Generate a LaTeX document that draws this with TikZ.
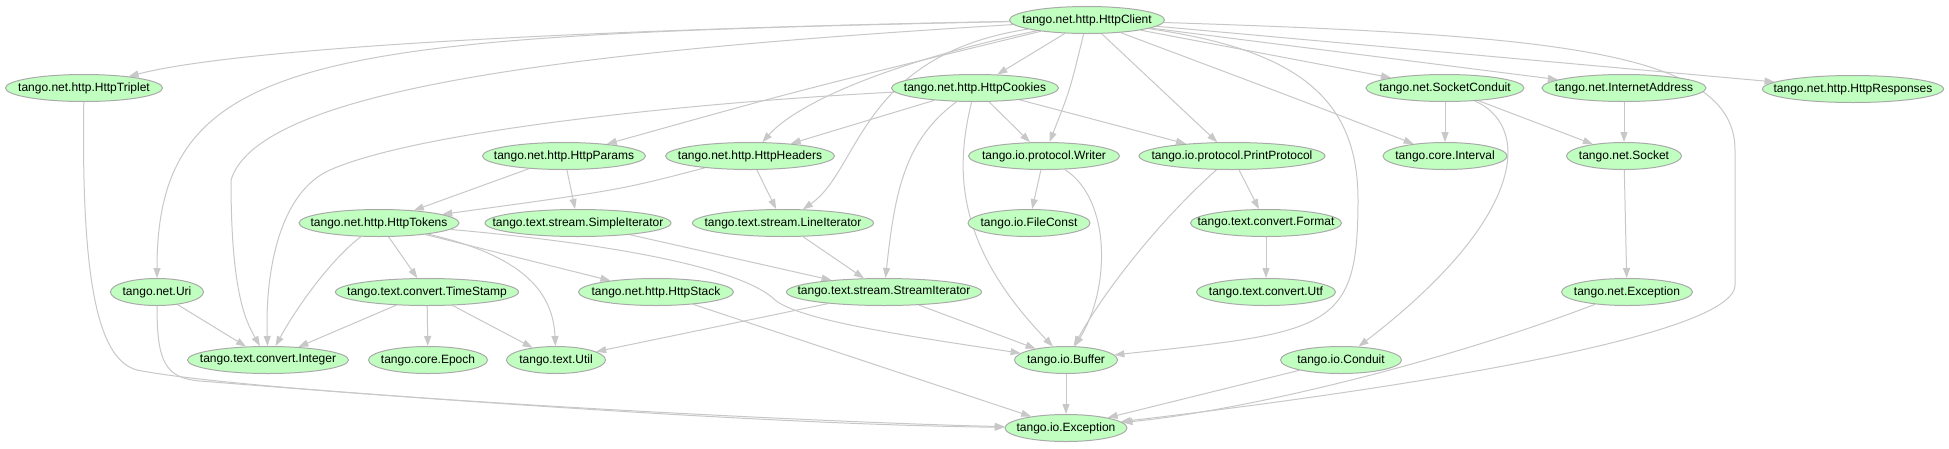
\documentclass[tikz,border=0pt]{standalone}
\usepackage{fontspec}
\setmainfont{Liberation Sans}
\usetikzlibrary{shapes.geometric,arrows.meta,backgrounds}
\definecolor{nodefill}{RGB}{192,255,192}
\definecolor{nodeline}{RGB}{170,170,170}
\definecolor{edgeline}{RGB}{200,200,200}
\tikzset{
 gnode/.style={ellipse,draw=nodeline,fill=nodefill,line width=1pt,inner sep=0pt,minimum height=27pt,font=\fontsize{12}{14}\selectfont},
 dep/.style={draw=edgeline,line width=1pt,-{Triangle[length=10pt,width=7pt]}}
}
\newcommand\gnd[5]{\node[gnode,minimum width=#4pt] (#1) at (#2,#3) {\makebox[0pt]{#5}};}
\begin{document}
\begin{tikzpicture}[x=1pt,y=-1pt]
\useasboundingbox (0,0) rectangle (1949,448);
\gnd{cli}{1087}{20}{155}{tango.net.http.HttpClient}
\gnd{trip}{84}{88}{157}{tango.net.http.HttpTriplet}
\gnd{cook}{975}{88}{167}{tango.net.http.HttpCookies}
\gnd{sockc}{1445}{88}{158}{tango.net.SocketConduit}
\gnd{inet}{1624}{88}{164}{tango.net.InternetAddress}
\gnd{resp}{1853}{89}{181}{tango.net.http.HttpResponses}
\gnd{params}{564}{156}{163}{tango.net.http.HttpParams}
\gnd{headers}{750}{156}{169}{tango.net.http.HttpHeaders}
\gnd{writer}{1044}{156}{151}{tango.io.protocol.Writer}
\gnd{pprot}{1232}{156}{186}{tango.io.protocol.PrintProtocol}
\gnd{interval}{1445}{156}{124}{tango.core.Interval}
\gnd{socket}{1624}{156}{115}{tango.net.Socket}
\gnd{tokens}{379}{223}{160}{tango.net.http.HttpTokens}
\gnd{simple}{578}{223}{186}{tango.text.stream.SimpleIterator}
\gnd{lineit}{783}{223}{181}{tango.text.stream.LineIterator}
\gnd{fconst}{1029}{223}{122}{tango.io.FileConst}
\gnd{format}{1266}{223}{151}{tango.text.convert.Format}
\gnd{uri}{157}{292}{93}{tango.net.Uri}
\gnd{tstamp}{427}{292}{183}{tango.text.convert.TimeStamp}
\gnd{stack}{656}{292}{155}{tango.net.http.HttpStack}
\gnd{stream}{884}{292}{195}{tango.text.stream.StreamIterator}
\gnd{utf}{1266}{292}{139}{tango.text.convert.Utf}
\gnd{netexc}{1627}{292}{131}{tango.net.Exception}
\gnd{integer}{268}{360}{161}{tango.text.convert.Integer}
\gnd{epoch}{428}{360}{119}{tango.core.Epoch}
\gnd{util}{556}{360}{99}{tango.text.Util}
\gnd{buffer}{1066}{360}{103}{tango.io.Buffer}
\gnd{conduit}{1341}{360}{121}{tango.io.Conduit}
\gnd{ioexc}{1066}{428}{122}{tango.io.Exception}
\begin{pgfonlayer}{background}
\fill[white] (0,0) rectangle (1949,448);
% HttpClient
\draw[dep] (cli) .. controls (650,28) and (250,45) .. (trip);
\draw[dep] (cli) .. controls (320,36) and (157,50) .. (uri);
\draw[dep] (cli) .. controls (600,50) and (260,85) .. (231,180) .. controls (231,290) and (245,320) .. (integer);
\draw[dep] (cli) .. controls (800,90) .. (params);
\draw[dep] (cli) .. controls (900,60) and (800,100) .. (headers);
\draw[dep] (cli) .. controls (860,55) and (860,170) .. (lineit);
\draw[dep] (cli) -- (cook);
\draw[dep] (cli) .. controls (1070,90) .. (writer);
\draw[dep] (cli) -- (pprot);
\draw[dep] (cli) .. controls (1300,50) and (1358,100) .. (1358,200) .. controls (1358,330) and (1330,332) .. (buffer);
\draw[dep] (cli) .. controls (1300,100) .. (interval);
\draw[dep] (cli) -- (sockc);
\draw[dep] (cli) -- (inet);
\draw[dep] (cli) -- (resp);
\draw[dep] (cli) .. controls (1550,35) and (1735,50) .. (1735,150) -- (1735,285) .. controls (1735,340) and (1350,395) .. (ioexc);
% HttpCookies
\draw[dep] (cook) -- (headers);
\draw[dep] (cook) -- (writer);
\draw[dep] (cook) -- (pprot);
\draw[dep] (cook) .. controls (700,102) and (420,130) .. (330,170) .. controls (280,192) and (265,270) .. (integer);
\draw[dep] (cook) .. controls (905,140) and (895,190) .. (stream);
\draw[dep] (cook) .. controls (955,170) and (955,245) .. (buffer);
% second row
\draw[dep] (params) -- (tokens);
\draw[dep] (params) -- (simple);
\draw[dep] (headers) .. controls (620,190) .. (tokens);
\draw[dep] (headers) -- (lineit);
\draw[dep] (writer) -- (fconst);
\draw[dep] (writer) .. controls (1112,200) and (1110,290) .. (buffer);
\draw[dep] (pprot) -- (format);
\draw[dep] (pprot) .. controls (1160,220) and (1105,290) .. (buffer);
\draw[dep] (format) -- (utf);
\draw[dep] (sockc) -- (interval);
\draw[dep] (sockc) -- (socket);
\draw[dep] (sockc) .. controls (1530,125) and (1530,215) .. (conduit);
\draw[dep] (inet) -- (socket);
\draw[dep] (socket) -- (netexc);
\draw[dep] (netexc) .. controls (1450,360) and (1250,410) .. (ioexc);
\draw[dep] (conduit) -- (ioexc);
\draw[dep] (buffer) -- (ioexc);
% HttpTokens
\draw[dep] (tokens) .. controls (330,260) and (295,310) .. (integer);
\draw[dep] (tokens) -- (tstamp);
\draw[dep] (tokens) -- (stack);
\draw[dep] (tokens) .. controls (520,255) and (553,290) .. (util);
\draw[dep] (tokens) .. controls (680,250) and (755,280) .. (775,300) .. controls (800,320) and (900,335) .. (buffer);
\draw[dep] (simple) -- (stream);
\draw[dep] (lineit) -- (stream);
\draw[dep] (stream) -- (util);
\draw[dep] (stream) -- (buffer);
\draw[dep] (tstamp) -- (integer);
\draw[dep] (tstamp) -- (epoch);
\draw[dep] (tstamp) -- (util);
\draw[dep] (uri) -- (integer);
\draw[dep] (uri) .. controls (157,362) and (165,378) .. (200,381) .. controls (500,405) and (800,425) .. (ioexc);
\draw[dep] (trip) .. controls (81,290) and (100,360) .. (137,370) .. controls (250,393) and (800,422) .. (ioexc);
\draw[dep] (stack) -- (ioexc);
\end{pgfonlayer}
\end{tikzpicture}
\end{document}
